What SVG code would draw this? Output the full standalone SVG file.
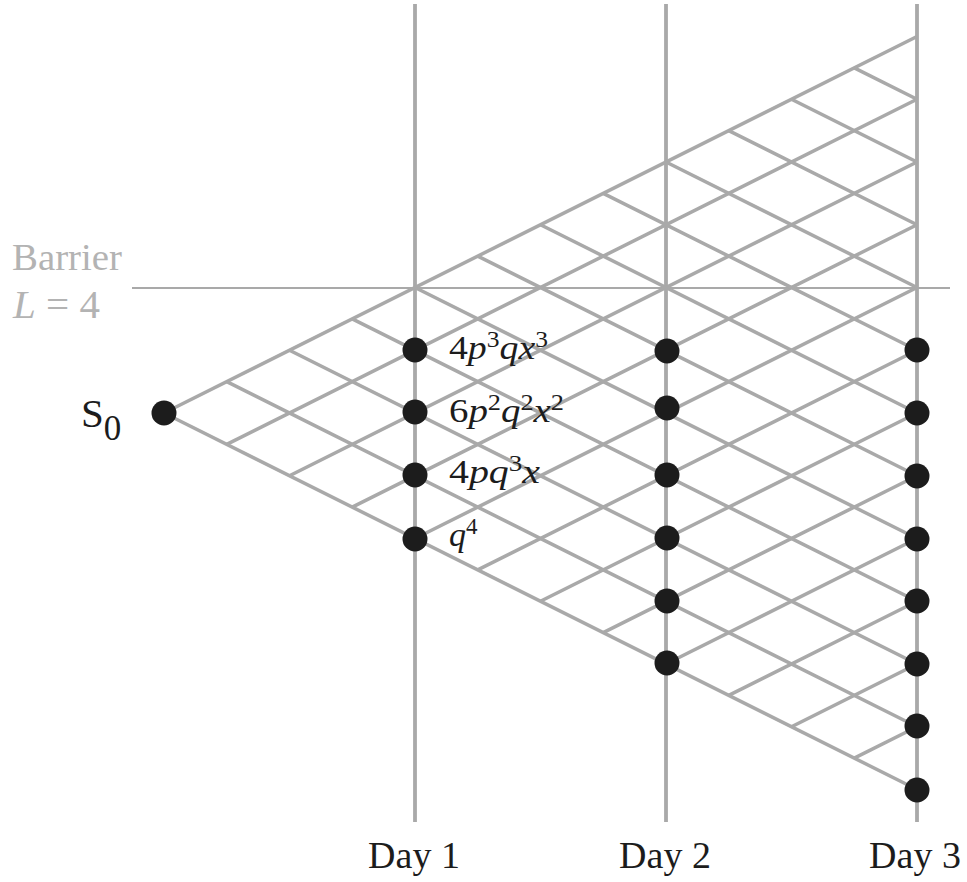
<svg xmlns="http://www.w3.org/2000/svg" width="967" height="882" viewBox="0 0 967 882">
  <style>
    .grid { stroke: #a9a9a9; stroke-width: 3.5; fill: none; stroke-linecap: butt; }
    .day { stroke: #a9a9a9; stroke-width: 3.8; fill: none; }
    .barrier { stroke: #a9a9a9; stroke-width: 2.2; fill: none; }
    .dot { fill: #1c1c1c; }
    text { font-family: "Liberation Serif", "Times New Roman", serif; fill: #1c1c1c; }
    .muted { fill: #b3b3b3; }
    .it { font-style: italic; }
    .lbl { font-size: 34px; }
    .sup { font-size: 23px; }
  </style>
  <rect width="967" height="882" fill="#ffffff"/>

  <!-- day columns, barrier level and the binomial lattice -->
  <g id="connectors">
    <line class="day" x1="415" y1="4" x2="415" y2="822"/>
    <line class="day" x1="666" y1="4" x2="666" y2="822"/>
    <line class="day" x1="917" y1="4" x2="917" y2="822"/>
    <line class="barrier" x1="132" y1="288" x2="950" y2="288"/>

    <!-- rising lines: from the lower edge up to Day 3 -->
    <line class="grid" x1="164" y1="413" x2="917" y2="36.5"/>
    <line class="grid" x1="226.75" y1="444.375" x2="917" y2="99.25"/>
    <line class="grid" x1="289.5" y1="475.75" x2="917" y2="162"/>
    <line class="grid" x1="352.25" y1="507.125" x2="917" y2="224.75"/>
    <line class="grid" x1="415" y1="538.5" x2="917" y2="287.5"/>
    <line class="grid" x1="477.75" y1="569.875" x2="917" y2="350.25"/>
    <line class="grid" x1="540.5" y1="601.25" x2="917" y2="413"/>
    <line class="grid" x1="603.25" y1="632.625" x2="917" y2="475.75"/>
    <line class="grid" x1="666" y1="664" x2="917" y2="538.5"/>
    <line class="grid" x1="728.75" y1="695.375" x2="917" y2="601.25"/>
    <line class="grid" x1="791.5" y1="726.75" x2="917" y2="664"/>
    <line class="grid" x1="854.25" y1="758.125" x2="917" y2="726.75"/>

    <!-- falling lines: from the upper edge down to Day 3 -->
    <line class="grid" x1="164" y1="413" x2="917" y2="789.5"/>
    <line class="grid" x1="226.75" y1="381.625" x2="917" y2="726.75"/>
    <line class="grid" x1="289.5" y1="350.25" x2="917" y2="664"/>
    <line class="grid" x1="352.25" y1="318.875" x2="917" y2="601.25"/>
    <line class="grid" x1="415" y1="287.5" x2="917" y2="538.5"/>
    <line class="grid" x1="477.75" y1="256.125" x2="917" y2="475.75"/>
    <line class="grid" x1="540.5" y1="224.75" x2="917" y2="413"/>
    <line class="grid" x1="603.25" y1="193.375" x2="917" y2="350.25"/>
    <line class="grid" x1="666" y1="162" x2="917" y2="287.5"/>
    <line class="grid" x1="728.75" y1="130.625" x2="917" y2="224.75"/>
    <line class="grid" x1="791.5" y1="99.25" x2="917" y2="162"/>
    <line class="grid" x1="854.25" y1="67.875" x2="917" y2="99.25"/>
  </g>

  <!-- start node -->
  <g id="s0">
    <circle class="dot" cx="164" cy="413" r="12.5"/>
    <text x="81" y="427" font-size="41">S<tspan font-size="35" dy="13">0</tspan></text>
  </g>

  <!-- Day 1 nodes with their probabilities -->
  <g id="day1-n1">
    <circle class="dot" cx="415" cy="350" r="12.5"/>
    <text class="lbl" x="449" y="359" textLength="99" lengthAdjust="spacingAndGlyphs">4<tspan class="it">p</tspan><tspan class="sup" dy="-12">3</tspan><tspan class="it" dy="12">q</tspan><tspan class="it">x</tspan><tspan class="sup" dy="-12">3</tspan></text>
  </g>
  <g id="day1-n2">
    <circle class="dot" cx="415" cy="412" r="12.5"/>
    <text class="lbl" x="449" y="422" textLength="115" lengthAdjust="spacingAndGlyphs">6<tspan class="it">p</tspan><tspan class="sup" dy="-12">2</tspan><tspan class="it" dy="12">q</tspan><tspan class="sup" dy="-12">2</tspan><tspan class="it" dy="12">x</tspan><tspan class="sup" dy="-12">2</tspan></text>
  </g>
  <g id="day1-n3">
    <circle class="dot" cx="415" cy="475" r="12.5"/>
    <text class="lbl" x="449" y="483" textLength="91" lengthAdjust="spacingAndGlyphs">4<tspan class="it">pq</tspan><tspan class="sup" dy="-12">3</tspan><tspan class="it" dy="12">x</tspan></text>
  </g>
  <g id="day1-n4">
    <circle class="dot" cx="415" cy="539" r="12.5"/>
    <text class="lbl" x="449" y="546"><tspan class="it">q</tspan><tspan class="sup" dy="-12">4</tspan></text>
  </g>

  <!-- Day 2 nodes -->
  <g id="day2-n1"><circle class="dot" cx="667" cy="351" r="12.5"/></g>
  <g id="day2-n2"><circle class="dot" cx="667" cy="408" r="12.5"/></g>
  <g id="day2-n3"><circle class="dot" cx="667" cy="475" r="12.5"/></g>
  <g id="day2-n4"><circle class="dot" cx="667" cy="538" r="12.5"/></g>
  <g id="day2-n5"><circle class="dot" cx="667" cy="601" r="12.5"/></g>
  <g id="day2-n6"><circle class="dot" cx="667" cy="663" r="12.5"/></g>

  <!-- Day 3 nodes -->
  <g id="day3-n1"><circle class="dot" cx="917" cy="350" r="12.5"/></g>
  <g id="day3-n2"><circle class="dot" cx="917" cy="413" r="12.5"/></g>
  <g id="day3-n3"><circle class="dot" cx="917" cy="476" r="12.5"/></g>
  <g id="day3-n4"><circle class="dot" cx="917" cy="539" r="12.5"/></g>
  <g id="day3-n5"><circle class="dot" cx="917" cy="601" r="12.5"/></g>
  <g id="day3-n6"><circle class="dot" cx="917" cy="664" r="12.5"/></g>
  <g id="day3-n7"><circle class="dot" cx="917" cy="726" r="12.5"/></g>
  <g id="day3-n8"><circle class="dot" cx="917" cy="790" r="12.5"/></g>

  <!-- barrier caption -->
  <g id="barrier-label">
    <text class="muted" x="12" y="270" font-size="38" textLength="110" lengthAdjust="spacingAndGlyphs">Barrier</text>
    <text class="muted" x="13" y="318" font-size="40" textLength="87" lengthAdjust="spacingAndGlyphs"><tspan class="it">L</tspan> = 4</text>
  </g>

  <!-- time axis captions -->
  <g id="axis-labels" font-size="38" text-anchor="middle">
    <text x="414" y="868">Day 1</text>
    <text x="665" y="868">Day 2</text>
    <text x="915" y="868">Day 3</text>
  </g>
</svg>
